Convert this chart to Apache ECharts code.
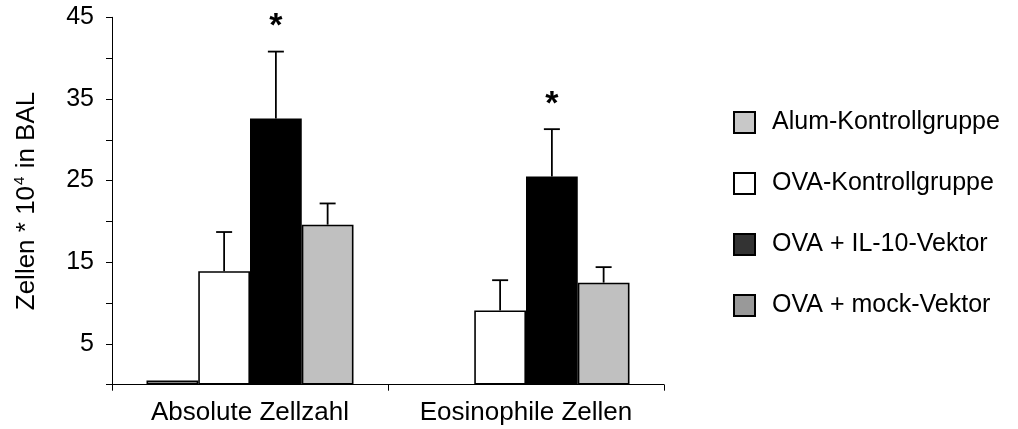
<!DOCTYPE html>
<html>
<head>
<meta charset="utf-8">
<script src="https://cdn.jsdelivr.net/npm/echarts@6/dist/echarts.min.js"></script>
<style>
  html, body { margin: 0; padding: 0; background: #fff; }
  #chart { width: 1018px; height: 429px; }
</style>
</head>
<body>
<div id="chart"></div>
<script>
// ---- Data ----
const categories = ['Absolute Zellzahl', 'Eosinophile Zellen'];
const seriesNames = ['Alum-Kontrollgruppe', 'OVA-Kontrollgruppe', 'OVA + IL-10-Vektor', 'OVA + mock-Vektor'];
const alumValues = [0.5, null];
const ovaKontrollValues = [13.9, 9.1];
const il10Values = [32.6, 25.5];
const mockValues = [19.6, 12.5];
const alumErrors = [0, null];
const ovaKontrollErrors = [4.8, 3.7];
const il10Errors = [8.2, 5.8];
const mockErrors = [2.6, 1.9];
const il10Significance = ['*', '*'];
const yTicks = [0, 5, 10, 15, 20, 25, 30, 35, 40, 45];
const yLabelValues = [5, 15, 25, 35, 45];

const FONT = "'Liberation Sans', Arial, sans-serif";
const barColors = ['#b4b4b4', '#ffffff', '#000000', '#c0c0c0'];
const legendColors = ['#c8c8c8', '#ffffff', '#333333', '#999999'];
const BAR_CAT_GAP = 0.25;

const allValues = [alumValues, ovaKontrollValues, il10Values, mockValues];
const allErrors = [alumErrors, ovaKontrollErrors, il10Errors, mockErrors];
const allSig = [[null, null], [null, null], il10Significance, [null, null]];

const errData = [];
allValues.forEach((vals, s) => {
  vals.forEach((v, c) => {
    if (v == null || !allErrors[s][c]) return;
    errData.push([c, v, v + allErrors[s][c], s, allSig[s][c] || '']);
  });
});

const chart = echarts.init(document.getElementById('chart'), null, { renderer: 'canvas' });

const barSeries = seriesNames.map((name, i) => ({
  name: name,
  type: 'bar',
  data: allValues[i].map(v => v == null ? '-' : v),
  barGap: '0%',
  barCategoryGap: (BAR_CAT_GAP * 100) + '%',
  itemStyle: { color: barColors[i], borderColor: '#000', borderWidth: 1.6 },
  emphasis: { disabled: true },
  animation: false
}));

const errSeries = {
  type: 'custom',
  data: errData,
  encode: { x: 0, y: [1, 2] },
  z: 5,
  animation: false,
  silent: true,
  renderItem: function (params, api) {
    const c = api.value(0);
    const base = api.value(1);
    const top = api.value(2);
    const s = api.value(3);
    const star = api.value(4);
    const catW = api.size([1, 0])[0];
    const barW = catW * (1 - BAR_CAT_GAP) / 4;
    const p0 = api.coord([c, base]);
    const p1 = api.coord([c, top]);
    const x = p0[0] - catW * (1 - BAR_CAT_GAP) / 2 + barW * (s + 0.5);
    const capHalf = 8;
    const children = [
      { type: 'line', shape: { x1: x, y1: p0[1], x2: x, y2: p1[1] }, style: { stroke: '#000', lineWidth: 1.8 } },
      { type: 'line', shape: { x1: x - capHalf, y1: p1[1], x2: x + capHalf, y2: p1[1] }, style: { stroke: '#000', lineWidth: 1.8 } }
    ];
    if (star) {
      children.push({
        type: 'text',
        style: {
          text: star, x: x, y: p1[1] - 25,
          align: 'center', verticalAlign: 'middle',
          font: 'bold 34px ' + FONT, fill: '#000'
        }
      });
    }
    return { type: 'group', children: children };
  }
};

chart.setOption({
  backgroundColor: '#ffffff',
  animation: false,
  grid: { left: 112, right: 354, top: 17.3, bottom: 44.3, containLabel: false },
  legend: {
    orient: 'vertical',
    left: 728,
    top: 105,
    itemWidth: 21,
    itemHeight: 21,
    itemGap: 36,
    icon: 'rect',
    selectedMode: false,
    itemStyle: { borderColor: '#000', borderWidth: 2 },
    textStyle: { fontFamily: FONT, fontSize: 25, color: '#000', padding: [0, 0, 0, 12] },
    data: seriesNames.map((n, i) => ({ name: n, itemStyle: { color: legendColors[i], borderColor: '#000', borderWidth: 2 } }))
  },
  xAxis: {
    type: 'category',
    data: categories,
    boundaryGap: true,
    axisLine: { show: true, lineStyle: { color: '#000', width: 1 } },
    axisTick: { show: true, length: 6, lineStyle: { color: '#000' } },
    axisLabel: { fontFamily: FONT, fontSize: 26, color: '#000', margin: 15, interval: 0 }
  },
  yAxis: {
    type: 'value',
    min: yTicks[0],
    max: yTicks[yTicks.length - 1],
    interval: yTicks[1] - yTicks[0],
    splitLine: { show: false },
    axisLine: { show: true, lineStyle: { color: '#000', width: 1 } },
    axisTick: { show: true, length: 6, lineStyle: { color: '#000' } },
    axisLabel: {
      fontFamily: FONT, fontSize: 25, color: '#000', margin: 18,
      formatter: v => yLabelValues.indexOf(v) >= 0 ? String(v) : ''
    },
    name: 'Zellen * 10{sup|4} in BAL',
    nameLocation: 'middle',
    nameGap: 85,
    nameTextStyle: {
      fontFamily: FONT, fontSize: 26, color: '#000', lineHeight: 30, verticalAlign: 'middle',
      rich: {
        sup: { fontFamily: FONT, fontSize: 15, color: '#000', verticalAlign: 'top', lineHeight: 30, padding: [0, 1, 10, 1] }
      }
    }
  },
  series: barSeries.concat([errSeries])
});
</script>
</body>
</html>
